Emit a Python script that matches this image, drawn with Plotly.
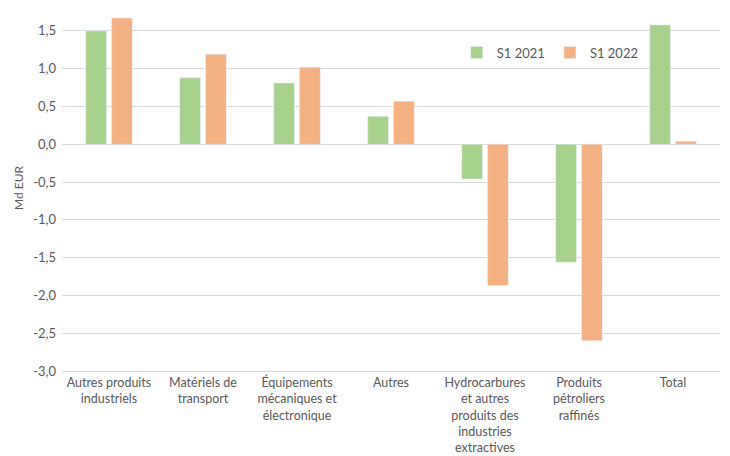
import plotly.graph_objects as go

categories = ["Autres produits<br>industriels", "Matériels de<br>transport",
              "Équipements<br>mécaniques et<br>électronique", "Autres",
              "Hydrocarbures<br>et autres<br>produits des<br>industries<br>extractives",
              "Produits<br>pétroliers<br>raffinés", "Total"]
s1_2021 = [1.50, 0.88, 0.81, 0.37, -0.46, -1.56, 1.58]
s1_2022 = [1.67, 1.19, 1.02, 0.57, -1.87, -2.60, 0.04]
y_ticks = [1.5, 1.0, 0.5, 0.0, -0.5, -1.0, -1.5, -2.0, -2.5, -3.0]
y_tick_labels = ["1,5", "1,0", "0,5", "0,0", "-0,5", "-1,0", "-1,5", "-2,0", "-2,5", "-3,0"]

font_family = "Lato, Open Sans, sans-serif"
grey = "#595959"

fig = go.Figure()
fig.add_bar(x=categories, y=s1_2021, name="S1 2021", marker_color="#A9D18E")
fig.add_bar(x=categories, y=s1_2022, name="S1 2022", marker_color="#F4B183")

fig.update_layout(
    width=730, height=456,
    margin=dict(l=62, r=10, t=5, b=85),
    plot_bgcolor="white", paper_bgcolor="white",
    barmode="group", bargap=0.45, bargroupgap=0.2,
    font=dict(family=font_family, size=13, color=grey),
    legend=dict(orientation="h", x=0.6, y=0.87, xanchor="left", yanchor="middle",
                font=dict(size=13, color=grey), itemwidth=30,
                bgcolor="rgba(0,0,0,0)"),
    xaxis=dict(showgrid=False, showline=True, linecolor="#D9D9D9", ticks="",
               automargin=False, tickfont=dict(size=12.5, color=grey)),
    yaxis=dict(range=[-3.0, 1.843], tickvals=y_ticks, ticktext=y_tick_labels,
               showgrid=True, gridcolor="#D9D9D9", zeroline=True, zerolinecolor="#D9D9D9",
               zerolinewidth=1, ticks="", ticklabelstandoff=5, automargin=False,
               title=dict(text="Md EUR", font=dict(size=12, color=grey), standoff=6),
               tickfont=dict(size=13, color=grey)),
)
fig.write_html("out.html")
